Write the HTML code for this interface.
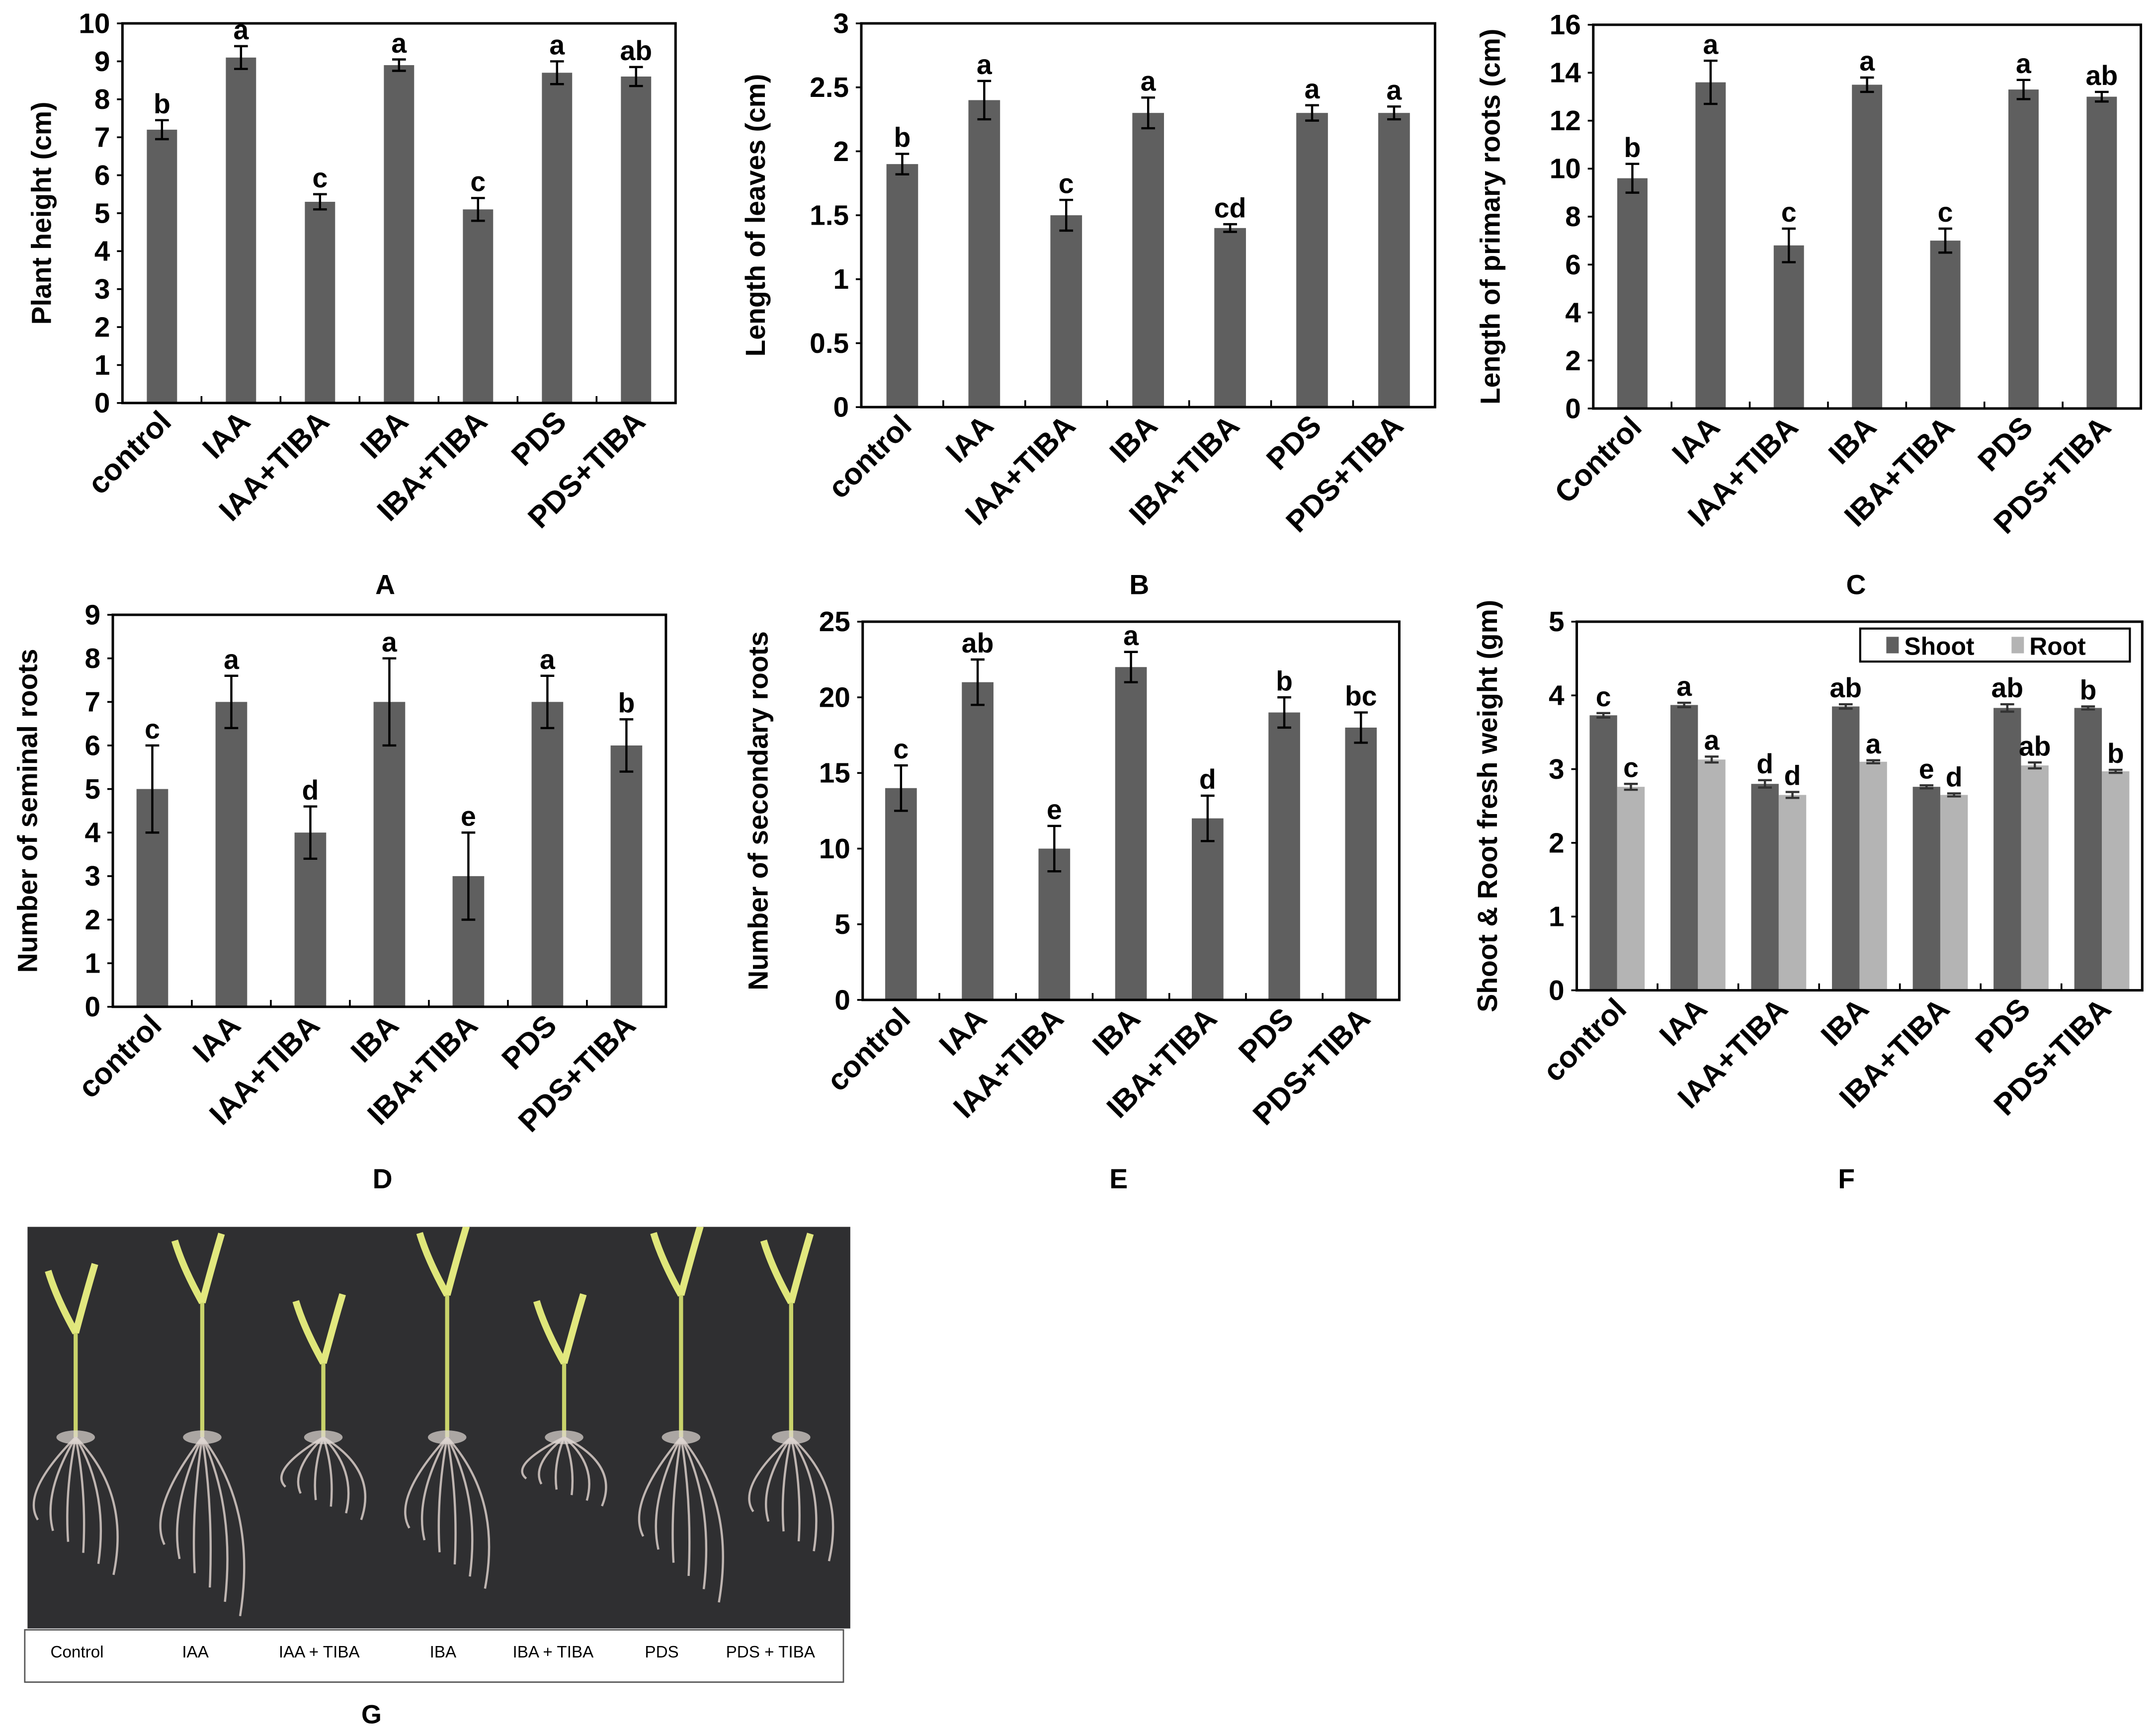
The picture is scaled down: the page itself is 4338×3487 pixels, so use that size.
<!DOCTYPE html>
<html><head><meta charset="utf-8">
<style>
html,body{margin:0;padding:0;background:#fff;}
svg{display:block;}
text{font-family:"Liberation Sans",Arial,sans-serif;font-weight:bold;fill:#000;}
</style></head>
<body>
<svg id="fig" xmlns="http://www.w3.org/2000/svg" width="4338" height="3487" viewBox="0 0 1567 1260" preserveAspectRatio="none">
<defs><clipPath id="pc"><rect x="20" y="892" width="598" height="292"/></clipPath></defs>
<rect x="0" y="0" width="1567" height="1260" fill="#fff"/>
<g id="charts"></g>
<g id="photo">
  <rect x="20" y="892" width="598" height="292" fill="#2f2f31"/>
  <g id="plants" clip-path="url(#pc)"></g>
  <rect x="18" y="1185" width="595" height="38" fill="#fff" stroke="#555" stroke-width="1"/>
  <g>
    <text x="56" y="1205" text-anchor="middle" font-size="12" style="font-weight:normal">Control</text>
    <text x="142" y="1205" text-anchor="middle" font-size="12" style="font-weight:normal">IAA</text>
    <text x="232" y="1205" text-anchor="middle" font-size="12" style="font-weight:normal">IAA + TIBA</text>
    <text x="322" y="1205" text-anchor="middle" font-size="12" style="font-weight:normal">IBA</text>
    <text x="402" y="1205" text-anchor="middle" font-size="12" style="font-weight:normal">IBA + TIBA</text>
    <text x="481" y="1205" text-anchor="middle" font-size="12" style="font-weight:normal">PDS</text>
    <text x="560" y="1205" text-anchor="middle" font-size="12" style="font-weight:normal">PDS + TIBA</text>
  </g>
  <text x="270" y="1253" text-anchor="middle" font-size="19">G</text>
</g>
</svg>
<script>
const NS="http://www.w3.org/2000/svg";
const cats=["control","IAA","IAA+TIBA","IBA","IBA+TIBA","PDS","PDS+TIBA"];
const catsC=["Control","IAA","IAA+TIBA","IBA","IBA+TIBA","PDS","PDS+TIBA"];
const valsA=[7.2,9.1,5.3,8.9,5.1,8.7,8.6];
const errA=[0.25,0.3,0.2,0.15,0.3,0.3,0.25];
const letA=["b","a","c","a","c","a","ab"];
const ticksA=[0,1,2,3,4,5,6,7,8,9,10];
const valsB=[1.9,2.4,1.5,2.3,1.4,2.3,2.3];
const errB=[0.08,0.15,0.12,0.12,0.03,0.06,0.05];
const letB=["b","a","c","a","cd","a","a"];
const ticksB=[0,0.5,1,1.5,2,2.5,3];
const valsC=[9.6,13.6,6.8,13.5,7.0,13.3,13.0];
const errC=[0.6,0.9,0.7,0.3,0.5,0.4,0.2];
const letC=["b","a","c","a","c","a","ab"];
const ticksC=[0,2,4,6,8,10,12,14,16];
const valsD=[5,7,4,7,3,7,6];
const errD=[1,0.6,0.6,1,1,0.6,0.6];
const letD=["c","a","d","a","e","a","b"];
const ticksD=[0,1,2,3,4,5,6,7,8,9];
const valsE=[14,21,10,22,12,19,18];
const errE=[1.5,1.5,1.5,1,1.5,1,1];
const letE=["c","ab","e","a","d","b","bc"];
const ticksE=[0,5,10,15,20,25];
const shootF=[3.73,3.87,2.8,3.85,2.76,3.83,3.83];
const shootErrF=[0.03,0.03,0.05,0.03,0.02,0.05,0.02];
const shootLetF=["c","a","d","ab","e","ab","b"];
const rootF=[2.76,3.13,2.65,3.1,2.65,3.05,2.97];
const rootErrF=[0.04,0.04,0.04,0.02,0.02,0.04,0.02];
const rootLetF=["c","a","d","a","d","ab","b"];
const ticksF=[0,1,2,3,4,5];

const root=document.getElementById('charts');
function mk(tag,attrs,parent,txt){const e=document.createElementNS(NS,tag);for(const k in attrs)e.setAttribute(k,attrs[k]);if(txt!==undefined)e.textContent=txt;(parent||root).appendChild(e);return e;}

function panel(cfg){
  const g=mk('g',{});
  
  
  const {x0,x1,y0,y1,max}=cfg;
  const n=cfg.cats.length, slot=(x1-x0)/n;
  const X=i=>x0+slot*(i+0.5);
  const Y=v=>y0-(v/max)*(y0-y1);
  cfg.ticks.forEach(t=>{
    mk('line',{x1:x0-4,x2:x0,y1:Y(t),y2:Y(t),stroke:'#000','stroke-width':1.3},g);
    const tl=mk('text',{x:x0-9,y:Y(t)+7,'text-anchor':'end','font-size':20.5},g,String(t));
    
    
  });
  for(let i=1;i<n;i++){mk('line',{x1:x0+slot*i,x2:x0+slot*i,y1:y0,y2:y0-5,stroke:'#000','stroke-width':1.3},g);}
  const series=cfg.series;
  const bw=cfg.bw;
  series.forEach((s,si)=>{
    s.vals.forEach((v,i)=>{
      const cx=X(i)+(series.length>1?(si-0.5)*bw:0);
      const b=mk('rect',{x:cx-bw/2,y:Y(v),width:bw,height:y0-Y(v),fill:s.color},g);
      
      
      const e=s.err[i], hw=5;
      const ec=series.length>1?'#333':'#000';
      mk('line',{x1:cx,x2:cx,y1:Y(v+e),y2:Y(v-e),stroke:ec,'stroke-width':1.6},g);
      mk('line',{x1:cx-hw,x2:cx+hw,y1:Y(v+e),y2:Y(v+e),stroke:ec,'stroke-width':1.6},g);
      mk('line',{x1:cx-hw,x2:cx+hw,y1:Y(v-e),y2:Y(v-e),stroke:ec,'stroke-width':1.6},g);
      const lt=mk('text',{x:cx,y:Y(v+e)-5,'text-anchor':'middle','font-size':20},g,s.lets[i]);
      
      
    });
  });
  mk('rect',{x:x0,y:y1,width:x1-x0,height:y0-y1,fill:'none',stroke:'#000','stroke-width':1.8},g);
  cfg.cats.forEach((c,i)=>{
    const tx=X(i)+8, ty=y0+15;
    const t=mk('text',{x:tx,y:ty,'text-anchor':'end','font-size':22,transform:`rotate(-45 ${tx} ${ty})`},g,c);
    
    
  });
  const yt=mk('text',{x:cfg.ylx,y:(y0+y1)/2,'text-anchor':'middle','font-size':20,transform:`rotate(-90 ${cfg.ylx} ${(y0+y1)/2})`},g,cfg.ytitle);
  
  
  const pl=mk('text',{x:cfg.px,y:cfg.py,'text-anchor':'middle','font-size':20},g,cfg.id);
  
  
  return g;
}
const dark='#5f5f5f', light='#b4b4b4';
panel({id:'A',cats:cats,x0:89,x1:491,y0:293,y1:17,max:10,ticks:ticksA,bw:22,ylx:37,ytitle:'Plant height (cm)',px:280,py:432,
  series:[{name:'height',vals:valsA,err:errA,lets:letA,color:dark}]});
panel({id:'B',cats:cats,x0:626,x1:1043,y0:296,y1:17,max:3,ticks:ticksB,bw:23,ylx:556,ytitle:'Length of leaves (cm)',px:828,py:432,
  series:[{name:'leaves',vals:valsB,err:errB,lets:letB,color:dark}]});
panel({id:'C',cats:catsC,x0:1158,x1:1556,y0:297,y1:18,max:16,ticks:ticksC,bw:22,ylx:1090,ytitle:'Length of primary roots (cm)',px:1349,py:432,
  series:[{name:'primary',vals:valsC,err:errC,lets:letC,color:dark}]});
panel({id:'D',cats:cats,x0:82,x1:484,y0:732,y1:447,max:9,ticks:ticksD,bw:23,ylx:27,ytitle:'Number of seminal roots',px:278,py:864,
  series:[{name:'seminal',vals:valsD,err:errD,lets:letD,color:dark}]});
panel({id:'E',cats:cats,x0:627,x1:1017,y0:727,y1:452,max:25,ticks:ticksE,bw:23,ylx:558,ytitle:'Number of secondary roots',px:813,py:864,
  series:[{name:'secondary',vals:valsE,err:errE,lets:letE,color:dark}]});
panel({id:'F',cats:cats,x0:1146,x1:1557,y0:720,y1:452,max:5,ticks:ticksF,bw:20,ylx:1088,ytitle:'Shoot & Root fresh weight (gm)',px:1342,py:864,
  series:[{name:'shoot',vals:shootF,err:shootErrF,lets:shootLetF,color:dark},{name:'root',vals:rootF,err:rootErrF,lets:rootLetF,color:light}]});
const lg=mk('g',{});


mk('rect',{x:1352,y:457,width:196,height:24,fill:'#fff',stroke:'#000','stroke-width':1.5},lg);
mk('rect',{x:1371,y:463,width:9,height:12,fill:dark},lg);
mk('text',{x:1384,y:476,'font-size':18},lg,'Shoot');
mk('rect',{x:1462,y:463,width:9,height:12,fill:light},lg);
mk('text',{x:1475,y:476,'font-size':18},lg,'Root');

const pg=document.getElementById('plants');
const plantX=[55,147,235,325,410,495,575];
const plantH=[110,130,90,135,90,135,130];
const rootD=[100,130,60,110,50,120,90];
plantX.forEach((px,i)=>{
  const base=1045;
  const top=base-plantH[i]*1.1;
  mk('path',{d:`M${px} ${base} L${px} ${top+40}`,stroke:'#c9d36a','stroke-width':3,fill:'none'},pg);
  mk('path',{d:`M${px} ${top+45} Q${px-14} ${top+20} ${px-20} ${top}`,stroke:'#dfe67a','stroke-width':5,fill:'none'},pg);
  mk('path',{d:`M${px} ${top+45} Q${px+8} ${top+15} ${px+14} ${top-5}`,stroke:'#e2e87e','stroke-width':5,fill:'none'},pg);
  for(let k=0;k<6;k++){
    const dx=(k-2.5)*10;
    mk('path',{d:`M${px} ${base} Q${px+dx*1.6} ${base+rootD[i]*0.4} ${px+dx*1.1} ${base+rootD[i]*(0.6+0.08*k)}`,stroke:'#d8ccc8','stroke-width':1.6,fill:'none',opacity:0.85},pg);
  }
  mk('ellipse',{cx:px,cy:base,rx:14,ry:5,fill:'#e0d8d4',opacity:0.7},pg);
});
</script>
</body></html>
